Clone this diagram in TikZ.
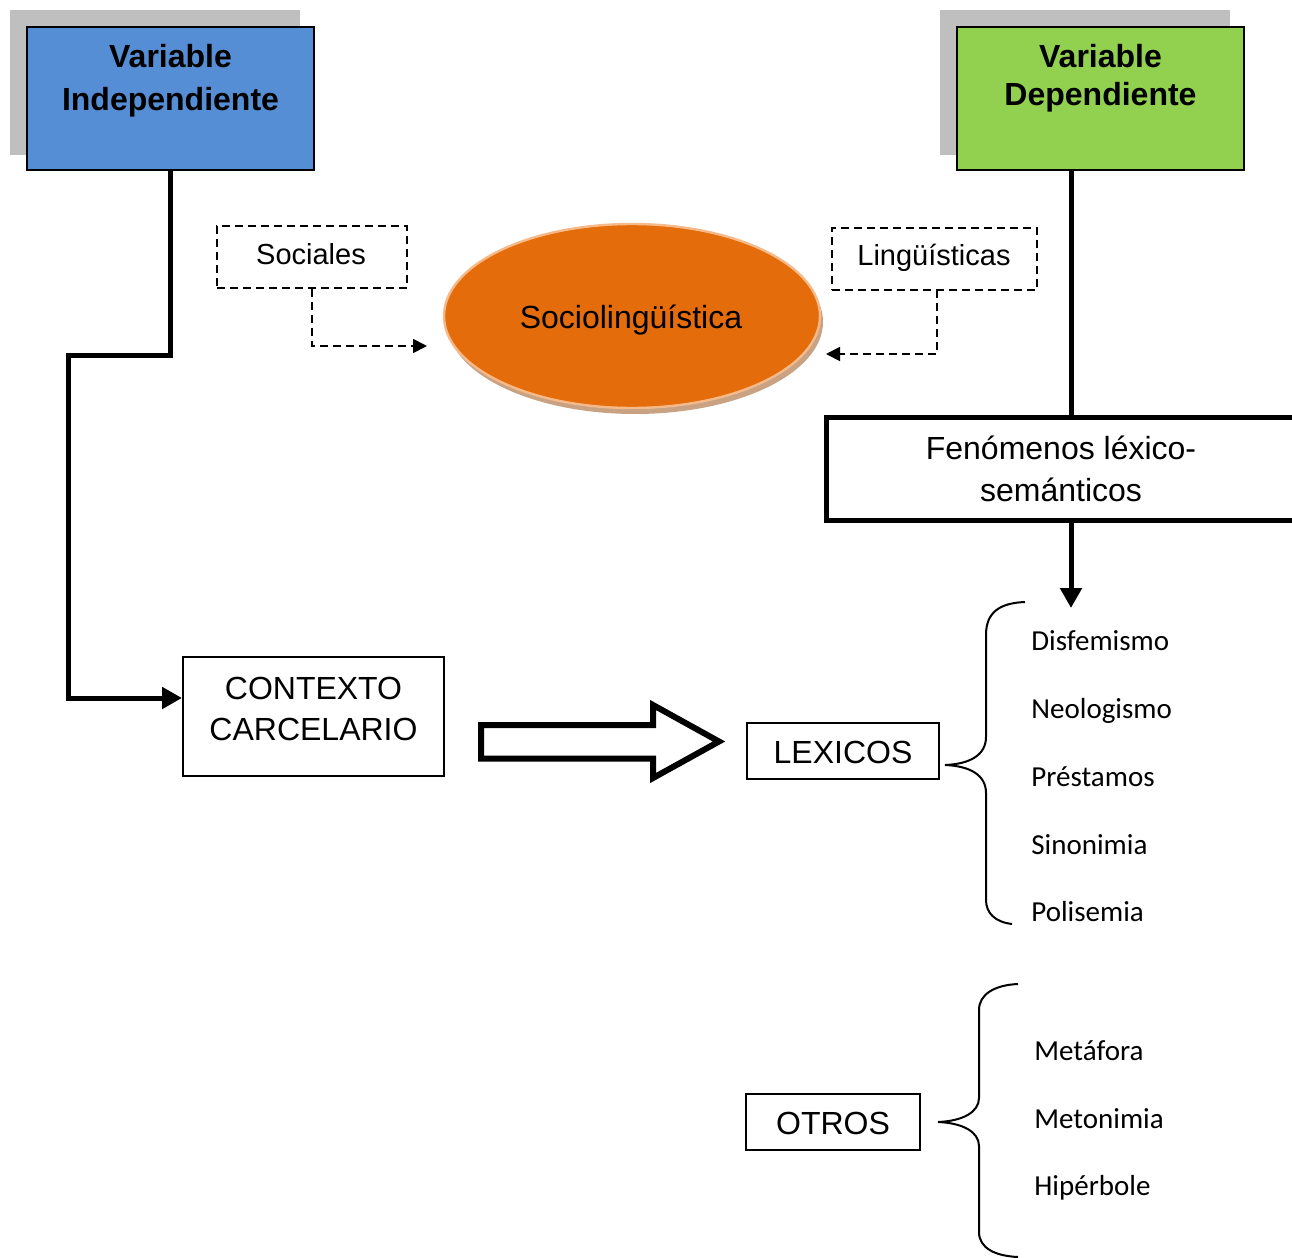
\documentclass[tikz,border=0pt]{standalone}
\usepackage{fontspec}
\setmainfont{Liberation Sans}
\newfontfamily\calib{Carlito}
\usetikzlibrary{arrows.meta,shapes.geometric,calc}
\definecolor{vblue}{HTML}{558ED5}
\definecolor{vgreen}{HTML}{92D050}
\definecolor{sorange}{HTML}{E46C0A}
\definecolor{sedge}{HTML}{F6B98A}
\definecolor{sshadow}{HTML}{C8A282}
\definecolor{shgray}{HTML}{BFBFBF}
\begin{document}
\begin{tikzpicture}[x=0.5pt,y=-0.5pt,
  varbox/.style={draw=black, line width=0.8pt, minimum width=143.5pt, minimum height=71.5pt, inner sep=0pt},
  vartext/.style={font=\fontsize{16}{21.5}\selectfont\bfseries, align=center, inner sep=0pt},
  dashbox/.style={draw, dash pattern=on 4pt off 2.5pt, line width=0.9pt, inner sep=0pt, font=\fontsize{14.5}{17}\selectfont},
  dashline/.style={dash pattern=on 4pt off 2.5pt, line width=0.9pt},
  plainbox/.style={draw, line width=0.8pt, inner sep=0pt},
  boxtext/.style={font=\fontsize{16}{20.5}\selectfont, align=center, inner sep=0pt},
  thickconn/.style={line width=2.5pt, line join=miter},
  itemtext/.style={font=\calib\fontsize{14.5}{17}\selectfont, anchor=base west, inner sep=0pt},
  bracepath/.style={line width=1pt},
  bigtip/.style={-{Triangle[length=10pt,width=10.5pt]}},
  smalltip/.style={-{Triangle[length=7pt,width=7pt]}}
]
\useasboundingbox (0,0) rectangle (1292,1258);

% shadows of variable boxes
\fill[shgray] (10,10) rectangle (300,155);
\fill[shgray] (940,10) rectangle (1230,155);

% variable boxes
\node[varbox, fill=vblue] (blue) at (170.5,98.5) {};
\node[vartext] (bluet) at (170.5,80.5) {Variable\\Independiente};
\node[varbox, fill=vgreen] (green) at (1100.5,98.5) {};
\node[vartext, font=\fontsize{16}{19}\selectfont\bfseries] (greent) at (1100.5,78) {Variable\\Dependiente};

% dashed boxes
\node[dashbox, minimum width=95pt, minimum height=31pt] (soc) at (312,257) {};
\node[font=\fontsize{14.5}{17}\selectfont, inner sep=0pt] (soct) at (311,254) {Sociales};
\node[dashbox, minimum width=102.5pt, minimum height=31pt] (ling) at (934.5,259) {};
\node[font=\fontsize{14.5}{17}\selectfont, inner sep=0pt] (lingt) at (934,257.5) {Lingüísticas};

% ellipse
\node[ellipse, fill=sshadow, minimum width=188pt, minimum height=92pt, inner sep=0pt] (sshad) at (635,322) {};
\node[ellipse, fill=sorange, draw=sedge, line width=1.2pt, minimum width=188pt, minimum height=92pt, inner sep=0pt] (socio) at (632,316) {};
\node[font=\fontsize{16}{19}\selectfont, inner sep=0pt] (sociot) at (631,320) {Sociolingüística};

% dashed connectors
\coordinate (socTip) at (427,346);
\coordinate (lingTip) at (826,354);
\draw[dashline, smalltip] (soc.south) |- (socTip);
\draw[dashline, smalltip] (937,290) |- (lingTip);

% Fenomenos box (cut by the right edge)
\node[minimum width=235.5pt, minimum height=51.5pt, inner sep=0pt, align=center,
      font=\fontsize{16}{21}\selectfont] (fen) at (1061,469) {Fenómenos léxico-\\semánticos};
\draw[line width=2.5pt, line join=miter] (1300,417.5) -- (826.5,417.5) -- (826.5,520.5) -- (1300,520.5);

% right connectors
\coordinate (gs) at (1071,170);
\coordinate (fentip) at (1071,608);
\draw[thickconn] (gs) -- (1071,416);
\draw[thickconn, bigtip] (1071,522) -- (fentip);

% CONTEXTO box
\node[plainbox, minimum width=130.5pt, minimum height=59.5pt] (ctx) at (313.5,716.5) {};
\node[boxtext] (ctxt) at (313.5,708.5) {CONTEXTO\\CARCELARIO};
\coordinate (ctxin) at (182,698);
\draw[thickconn, bigtip] (blue.south) |- (68,355) |- (ctxin);

% fat arrow
\draw[line width=3pt, line join=miter] (481,725) -- (653,725) -- (653,705) -- (719,741.5) -- (653,778) -- (653,758.5) -- (481,758.5) -- cycle;

% LEXICOS and OTROS
\node[plainbox, minimum width=96pt, minimum height=28pt] (lex) at (843,751) {};
\node[boxtext] (lext) at (843,752) {LEXICOS};
\node[plainbox, minimum width=87pt, minimum height=28pt] (otr) at (833,1122) {};
\node[boxtext] (otrt) at (833,1123) {OTROS};

% braces
\draw[bracepath] (1025,602) .. controls (1000,603) and (986,612) .. (986,635) -- (986,737)
  .. controls (986,755) and (970,764) .. (945,765)
  .. controls (970,766) and (986,775) .. (986,793) -- (986,900)
  .. controls (986,913) and (995,922) .. (1012,924);
\draw[bracepath] (1018,984) .. controls (995,985) and (979,994) .. (979,1010) -- (979,1098)
  .. controls (979,1112) and (963,1121) .. (938,1122)
  .. controls (963,1123) and (979,1132) .. (979,1146) -- (979,1232)
  .. controls (979,1248) and (995,1256) .. (1018,1257);

% list items
\node[itemtext] (i1) at (1031,650) {Disfemismo};
\node[itemtext] (i2) at (1031,718) {Neologismo};
\node[itemtext] (i3) at (1031,786) {Préstamos};
\node[itemtext] (i4) at (1031,854) {Sinonimia};
\node[itemtext] (i5) at (1031,921) {Polisemia};
\node[itemtext] (j1) at (1034,1060) {Metáfora};
\node[itemtext] (j2) at (1034,1128) {Metonimia};
\node[itemtext] (j3) at (1034,1195) {Hipérbole};
\end{tikzpicture}
\end{document}
